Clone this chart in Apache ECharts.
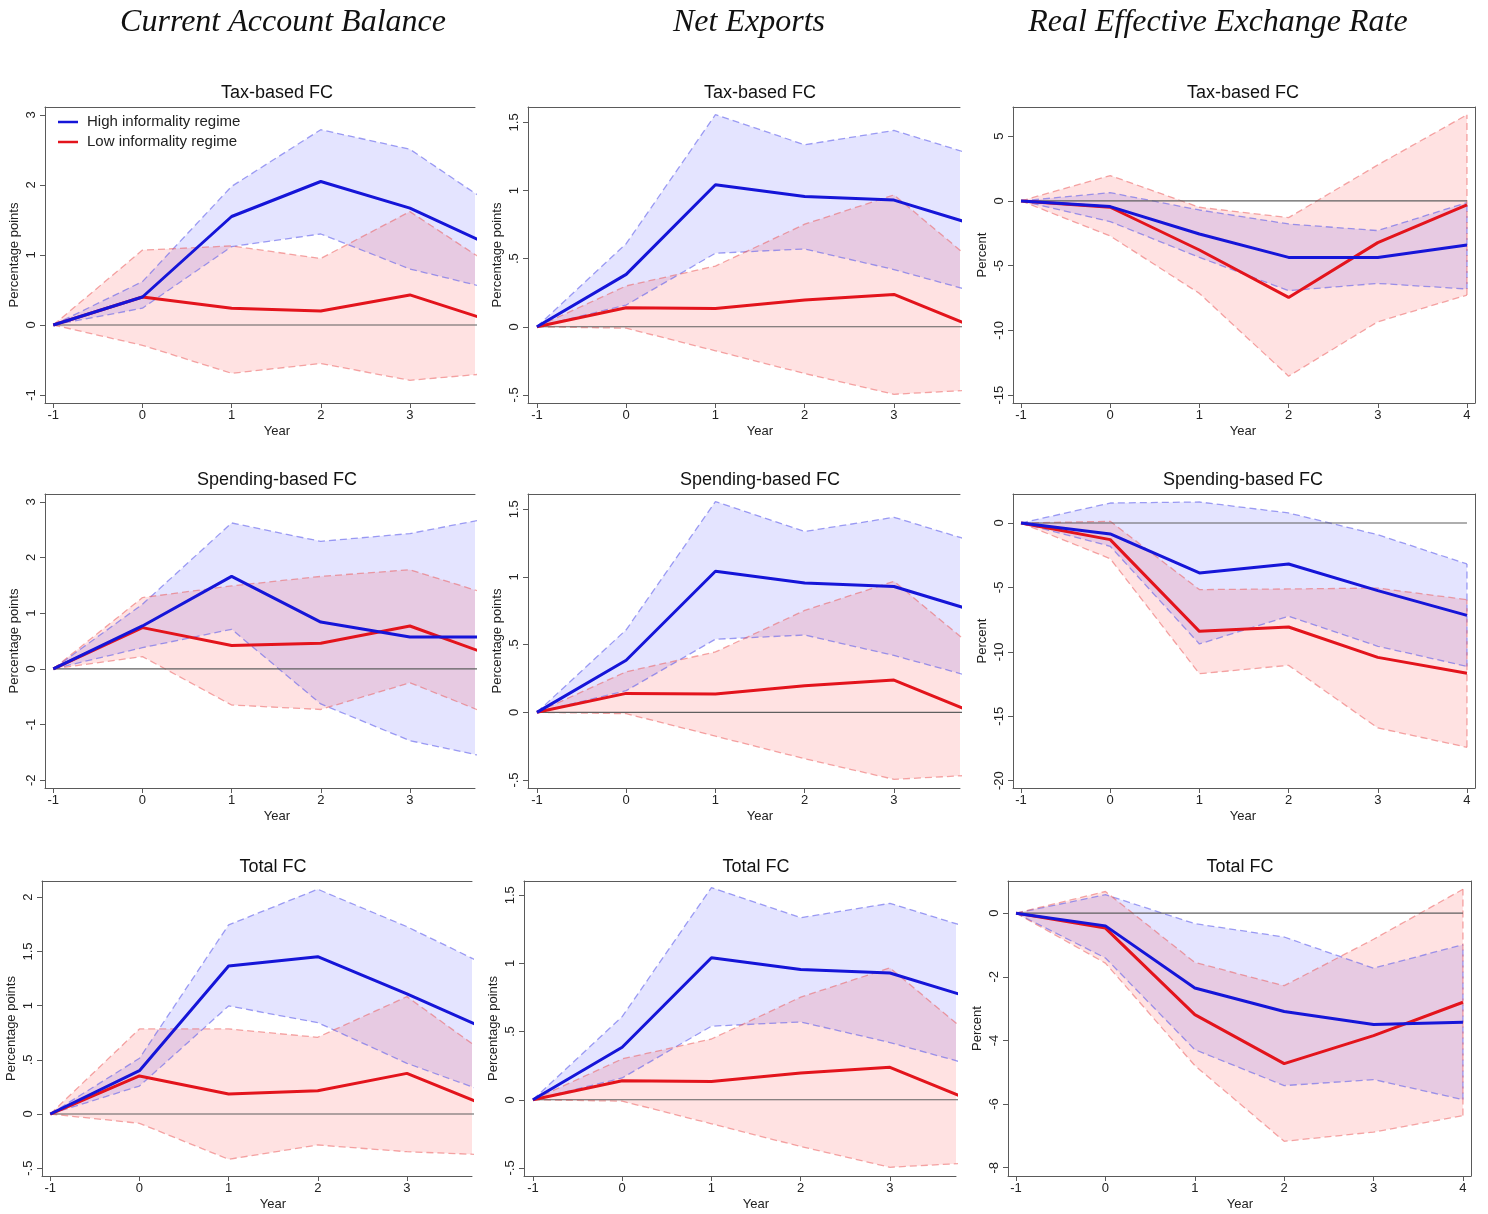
<!DOCTYPE html>
<html><head><meta charset="utf-8">
<script src="https://cdn.jsdelivr.net/npm/echarts@6/dist/echarts.min.js"></script>
<style>html,body{margin:0;padding:0;background:#fff}#c{width:1488px;height:1214px}</style>
</head><body><div id="c"></div><script>
// ---------- DATA ----------
const years = [-1, 0, 1, 2, 3, 4];
const yearTicks = [-1, 0, 1, 2, 3, 4];

// Current account balance — tax-based FC
const caTaxHighMid   = [0, 0.40, 1.55, 2.05, 1.67, 1.08];
const caTaxHighUpper = [0, 0.62, 1.98, 2.79, 2.51, 1.65];
const caTaxHighLower = [0, 0.24, 1.12, 1.30, 0.80, 0.49];
const caTaxLowMid    = [0, 0.40, 0.24, 0.20, 0.43, 0.02];
const caTaxLowUpper  = [0, 1.07, 1.13, 0.95, 1.62, 0.78];
const caTaxLowLower  = [0, -0.29, -0.69, -0.55, -0.79, -0.68];
const caTaxTicks = [-1, 0, 1, 2, 3];

// Net exports (same estimates shown in all three rows)
const nxHighMid   = [0, 0.385, 1.042, 0.956, 0.93, 0.73];
const nxHighUpper = [0, 0.61, 1.557, 1.336, 1.441, 1.24];
const nxHighLower = [0, 0.16, 0.54, 0.571, 0.42, 0.24];
const nxLowMid    = [0, 0.14, 0.135, 0.196, 0.238, -0.03];
const nxLowUpper  = [0, 0.30, 0.446, 0.753, 0.968, 0.42];
const nxLowLower  = [0, -0.01, -0.176, -0.343, -0.495, -0.46];
const nxTicks = [-0.5, 0, 0.5, 1, 1.5];

// REER — tax-based FC
const reTaxHighMid   = [0, -0.44, -2.55, -4.36, -4.36, -3.40];
const reTaxHighUpper = [0, 0.64, -0.70, -1.78, -2.29, -0.13];
const reTaxHighLower = [0, -1.60, -4.36, -6.93, -6.37, -6.80];
const reTaxLowMid    = [0, -0.49, -3.79, -7.45, -3.22, -0.31];
const reTaxLowUpper  = [0, 1.96, -0.49, -1.29, 2.78, 6.65];
const reTaxLowLower  = [0, -2.71, -7.14, -13.53, -9.33, -7.27];
const reTaxTicks = [-15, -10, -5, 0, 5];

// Current account — spending-based FC
const caSpendHighMid   = [0, 0.77, 1.66, 0.84, 0.57, 0.57];
const caSpendHighUpper = [0, 1.16, 2.62, 2.29, 2.43, 2.74];
const caSpendHighLower = [0, 0.38, 0.71, -0.63, -1.29, -1.63];
const caSpendLowMid    = [0, 0.74, 0.42, 0.46, 0.77, 0.19];
const caSpendLowUpper  = [0, 1.28, 1.49, 1.66, 1.78, 1.28];
const caSpendLowLower  = [0, 0.22, -0.65, -0.73, -0.25, -0.89];
const caSpendTicks = [-2, -1, 0, 1, 2, 3];

// REER — spending-based FC
const reSpendHighMid   = [0, -0.85, -3.88, -3.18, -5.25, -7.17];
const reSpendHighUpper = [0, 1.55, 1.63, 0.78, -0.91, -3.18];
const reSpendHighLower = [0, -1.81, -9.39, -7.24, -9.57, -11.13];
const reSpendLowMid    = [0, -1.29, -8.41, -8.07, -10.43, -11.67];
const reSpendLowUpper  = [0, 0.13, -5.17, -5.12, -5.05, -5.95];
const reSpendLowLower  = [0, -2.77, -11.70, -11.05, -15.91, -17.41];
const reSpendTicks = [-20, -15, -10, -5, 0];

// Current account — total FC
const caTotalHighMid   = [0, 0.40, 1.366, 1.452, 1.108, 0.745];
const caTotalHighUpper = [0, 0.514, 1.745, 2.074, 1.729, 1.33];
const caTotalHighLower = [0, 0.258, 0.997, 0.843, 0.468, 0.17];
const caTotalLowMid    = [0, 0.351, 0.185, 0.215, 0.375, 0.04];
const caTotalLowUpper  = [0, 0.785, 0.785, 0.708, 1.083, 0.49];
const caTotalLowLower  = [0, -0.086, -0.418, -0.286, -0.348, -0.38];
const caTotalTicks = [-0.5, 0, 0.5, 1, 1.5, 2];

// REER — total FC
const reTotalHighMid   = [0, -0.40, -2.35, -3.09, -3.50, -3.43];
const reTotalHighUpper = [0, 0.58, -0.33, -0.75, -1.73, -0.99];
const reTotalHighLower = [0, -1.41, -4.29, -5.42, -5.23, -5.86];
const reTotalLowMid    = [0, -0.47, -3.19, -4.73, -3.85, -2.80];
const reTotalLowUpper  = [0, 0.68, -1.55, -2.28, -0.82, 0.75];
const reTotalLowLower  = [0, -1.57, -4.79, -7.17, -6.88, -6.36];
const reTotalTicks = [-8, -6, -4, -2, 0];

const columnTitles = ['Current Account Balance', 'Net Exports', 'Real Effective Exchange Rate'];
const rowTitles = ['Tax-based FC', 'Spending-based FC', 'Total FC'];
const legendNames = ['High informality regime', 'Low informality regime'];

// ---------- PANELS (data references + layout) ----------
const panels = [
  { row:0, col:0, yName:'Percentage points', ticks:caTaxTicks,
    high:[caTaxHighMid, caTaxHighUpper, caTaxHighLower], low:[caTaxLowMid, caTaxLowUpper, caTaxLowLower],
    L:{left:45, top:107, width:430, height:296, xMin:-1.093, xMax:3.73, yMin:-1.114, yMax:3.114, cx:277} },
  { row:0, col:1, yName:'Percentage points', ticks:nxTicks,
    high:[nxHighMid, nxHighUpper, nxHighLower], low:[nxLowMid, nxLowUpper, nxLowLower],
    L:{left:528, top:107, width:432, height:296, xMin:-1.10, xMax:3.74, yMin:-0.559, yMax:1.613, cx:760} },
  { row:0, col:2, yName:'Percent', ticks:reTaxTicks,
    high:[reTaxHighMid, reTaxHighUpper, reTaxHighLower], low:[reTaxLowMid, reTaxLowUpper, reTaxLowLower],
    L:{left:1013, top:107, width:462, height:296, xMin:-1.09, xMax:4.09, yMin:-15.6, yMax:7.25, cx:1243} },
  { row:1, col:0, yName:'Percentage points', ticks:caSpendTicks,
    high:[caSpendHighMid, caSpendHighUpper, caSpendHighLower], low:[caSpendLowMid, caSpendLowUpper, caSpendLowLower],
    L:{left:45, top:494, width:430, height:294, xMin:-1.093, xMax:3.73, yMin:-2.14, yMax:3.14, cx:277} },
  { row:1, col:1, yName:'Percentage points', ticks:nxTicks,
    high:[nxHighMid, nxHighUpper, nxHighLower], low:[nxLowMid, nxLowUpper, nxLowLower],
    L:{left:528, top:494, width:432, height:294, xMin:-1.10, xMax:3.74, yMin:-0.559, yMax:1.613, cx:760} },
  { row:1, col:2, yName:'Percent', ticks:reSpendTicks,
    high:[reSpendHighMid, reSpendHighUpper, reSpendHighLower], low:[reSpendLowMid, reSpendLowUpper, reSpendLowLower],
    L:{left:1013, top:494, width:462, height:294, xMin:-1.09, xMax:4.09, yMin:-20.57, yMax:2.25, cx:1243} },
  { row:2, col:0, yName:'Percentage points', ticks:caTotalTicks,
    high:[caTotalHighMid, caTotalHighUpper, caTotalHighLower], low:[caTotalLowMid, caTotalLowUpper, caTotalLowLower],
    L:{left:42, top:881, width:430, height:295, xMin:-1.093, xMax:3.73, yMin:-0.572, yMax:2.15, cx:273} },
  { row:2, col:1, yName:'Percentage points', ticks:nxTicks,
    high:[nxHighMid, nxHighUpper, nxHighLower], low:[nxLowMid, nxLowUpper, nxLowLower],
    L:{left:524, top:881, width:432, height:295, xMin:-1.10, xMax:3.74, yMin:-0.559, yMax:1.605, cx:756} },
  { row:2, col:2, yName:'Percent', ticks:reTotalTicks,
    high:[reTotalHighMid, reTotalHighUpper, reTotalHighLower], low:[reTotalLowMid, reTotalLowUpper, reTotalLowLower],
    L:{left:1008, top:881, width:463, height:295, xMin:-1.09, xMax:4.09, yMin:-8.26, yMax:1.01, cx:1240} }
];

// ---------- STYLES ----------
const SANS = '"Liberation Sans", Arial, sans-serif';
const FRAME = '#5a5a5a';
const BLUE = '#1515d8', RED = '#e3141c';
const BLUE_FILL = 'rgba(0,0,255,0.105)', RED_FILL = 'rgba(255,0,0,0.115)';
const BLUE_DASH = 'rgba(95,95,235,0.6)', RED_DASH = 'rgba(235,95,95,0.55)';

function stataLabel(v) {
  let s = String(+Number(v).toFixed(3));
  return s.replace(/^(-?)0\./, '$1.');
}
const pts = arr => years.map((x, k) => [x, arr[k]]);

const grid = [], xAxis = [], yAxis = [], series = [], graphic = [];

function bandSeries(xi, yi, up, lo, fill) {
  return {
    type: 'custom', xAxisIndex: xi, yAxisIndex: yi, silent: true, z: 1, animation: false,
    data: [[years[0], lo[0]]],
    renderItem: function (params, api) {
      const poly = [];
      years.forEach((x, k) => poly.push(api.coord([x, up[k]])));
      for (let k = years.length - 1; k >= 0; k--) poly.push(api.coord([years[k], lo[k]]));
      const cs = params.coordSys;
      return {
        type: 'polygon', shape: { points: poly }, style: { fill: fill, stroke: null },
        clipPath: { type: 'rect', shape: { x: cs.x, y: cs.y, width: cs.width, height: cs.height } }
      };
    }
  };
}

panels.forEach((p, i) => {
  const L = p.L;
  grid.push({ left: L.left, top: L.top, width: L.width, height: L.height, containLabel: false });
  const xb = {
    type: 'value', gridIndex: i, min: L.xMin, max: L.xMax, position: 'bottom',
    axisLine: { show: true, onZero: false, lineStyle: { color: FRAME, width: 1 } },
    axisTick: { show: true, inside: false, length: 5, lineStyle: { color: FRAME }, customValues: yearTicks.filter(v => v <= L.xMax) },
    axisLabel: { show: true, margin: 6, fontSize: 13, fontFamily: SANS, color: '#222', customValues: yearTicks.filter(v => v <= L.xMax), formatter: v => String(v) },
    splitLine: { show: false }
  };
  const xt = {
    type: 'value', gridIndex: i, min: 0, max: 1, position: 'top',
    axisLine: { show: true, onZero: false, lineStyle: { color: FRAME, width: 1 } },
    axisTick: { show: false }, axisLabel: { show: false }, splitLine: { show: false }
  };
  xAxis.push(xb, xt);
  const yl = {
    type: 'value', gridIndex: i, min: L.yMin, max: L.yMax, position: 'left',
    name: p.yName, nameLocation: 'middle', nameGap: 24,
    nameTextStyle: { fontSize: 13, fontFamily: SANS, color: '#222' },
    axisLine: { show: true, onZero: false, lineStyle: { color: FRAME, width: 1 } },
    axisTick: { show: true, inside: false, length: 5, lineStyle: { color: FRAME }, customValues: p.ticks },
    axisLabel: { show: true, rotate: 90, margin: 7, fontSize: 13, fontFamily: SANS, color: '#222', customValues: p.ticks, formatter: stataLabel },
    splitLine: { show: false }
  };
  const yr = {
    type: 'value', gridIndex: i, min: 0, max: 1, position: 'right',
    axisLine: { show: p.col === 2, onZero: false, lineStyle: { color: FRAME, width: 1 } },
    axisTick: { show: false }, axisLabel: { show: false }, splitLine: { show: false }
  };
  yAxis.push(yl, yr);
  const xi = 2 * i, yi = 2 * i;
  const base = { type: 'line', xAxisIndex: xi, yAxisIndex: yi, symbol: 'none', silent: true, animation: false, clip: true };

  // shaded confidence bands (blue first, red over)
  series.push(bandSeries(xi, yi, p.high[1], p.high[2], BLUE_FILL));
  series.push(bandSeries(xi, yi, p.low[1], p.low[2], RED_FILL));

  // dashed band edges
  [[p.high, BLUE_DASH], [p.low, RED_DASH]].forEach(([d, c]) => {
    const up = d[1], lo = d[2], n = years.length - 1;
    [up, lo].forEach(arr => series.push(Object.assign({}, base, {
      z: 2, data: pts(arr), lineStyle: { color: c, width: 1.3, type: [7, 4] }
    })));
    series.push(Object.assign({}, base, {
      z: 2, data: [[years[n], lo[n]], [years[n], up[n]]], lineStyle: { color: c, width: 1.3, type: [7, 4] }
    }));
  });
  // zero reference line
  series.push(Object.assign({}, base, {
    z: 3, data: [[years[0], 0], [years[years.length - 1], 0]], lineStyle: { color: '#5f5f5f', width: 1.1 }
  }));
  // point estimates
  series.push(Object.assign({}, base, {
    z: 4, name: i === 0 ? legendNames[1] : undefined, data: pts(p.low[0]),
    lineStyle: { color: RED, width: 3 }, itemStyle: { color: RED }
  }));
  series.push(Object.assign({}, base, {
    z: 5, name: i === 0 ? legendNames[0] : undefined, data: pts(p.high[0]),
    lineStyle: { color: BLUE, width: 3 }, itemStyle: { color: BLUE }
  }));

  // panel title & x-axis title
  graphic.push({ type: 'text', x: L.cx, y: L.top - 14, silent: true,
    style: { text: rowTitles[p.row], font: '18px ' + SANS, fill: '#111', align: 'center', verticalAlign: 'middle' } });
  graphic.push({ type: 'text', x: L.cx, y: L.top + L.height + 28, silent: true,
    style: { text: 'Year', font: '13px ' + SANS, fill: '#222', align: 'center', verticalAlign: 'middle' } });
});

// column headers
[283, 749, 1218].forEach((x, c) => graphic.push({ type: 'text', x: x, y: 23, silent: true,
  style: { text: columnTitles[c], font: 'italic 32px "Liberation Serif", "Times New Roman", serif', fill: '#111', align: 'center', verticalAlign: 'middle' } }));

const chart = echarts.init(document.getElementById('c'), null, { renderer: 'canvas' });
chart.setOption({
  animation: false,
  backgroundColor: '#fff',
  grid, xAxis, yAxis, series, graphic,
  legend: {
    data: legendNames, orient: 'vertical', left: 53, top: 109,
    icon: 'rect', itemWidth: 20, itemHeight: 2.5, itemGap: 4, selectedMode: false,
    textStyle: { fontSize: 15, fontFamily: SANS, color: '#222', lineHeight: 16, padding: [0, 0, 0, 4] }
  }
});
</script></body></html>
